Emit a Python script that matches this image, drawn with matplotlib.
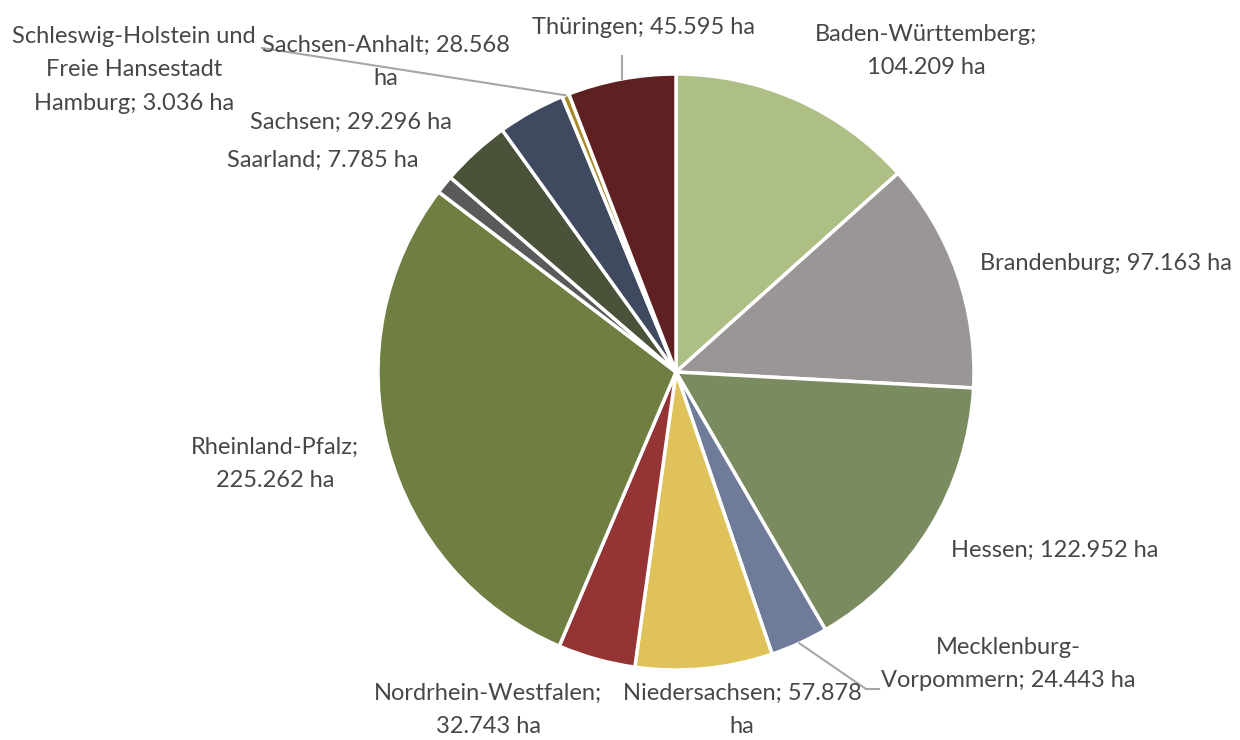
import numpy as np
import matplotlib.pyplot as plt

# --- Daten ---
laender = ['Baden-Württemberg', 'Brandenburg', 'Hessen', 'Mecklenburg-\nVorpommern',
           'Niedersachsen', 'Nordrhein-Westfalen', 'Rheinland-Pfalz', 'Saarland',
           'Sachsen', 'Sachsen-Anhalt', 'Schleswig-Holstein und\nFreie Hansestadt\nHamburg',
           'Thüringen']
flaeche = [104.209, 97.163, 122.952, 24.443, 57.878, 32.743, 225.262, 7.785,
           29.296, 28.568, 3.036, 45.595]
label_txt = ['Baden-Württemberg;\n104.209 ha', 'Brandenburg; 97.163 ha', 'Hessen; 122.952 ha',
             'Mecklenburg-\nVorpommern; 24.443 ha', 'Niedersachsen; 57.878\nha',
             'Nordrhein-Westfalen;\n32.743 ha', 'Rheinland-Pfalz;\n225.262 ha',
             'Saarland; 7.785 ha', 'Sachsen; 29.296 ha', 'Sachsen-Anhalt; 28.568\nha',
             'Schleswig-Holstein und\nFreie Hansestadt\nHamburg; 3.036 ha',
             'Thüringen; 45.595 ha']
farben = ['#adbf84', '#9b9696', '#7a8c5f', '#6e7c99', '#dfc25a', '#943434',
          '#6e7f41', '#5a5a5a', '#4a5339', '#3f4a60', '#a88a2a', '#5e2020']

# label positions in pixel (x, y from top)
label_px = [(926, 51), (1106, 264), (1055, 550), (1008, 664), (742, 710), (488, 710),
            (275, 464), (323, 160), (351, 122), (386, 62), (134, 70), (643, 27)]

W, H = 1240, 740
cx, cy, R = 676, 372, 298

def px(x, y):
    return (x - cx) / R, (cy - y) / R

plt.rcParams['font.family'] = ['Lato', 'DejaVu Sans']

fig = plt.figure(figsize=(12.4, 7.4), dpi=100)
ax = fig.add_axes([0, 0, 1, 1])
ax.axis('off')

ax.pie(flaeche, colors=farben, startangle=90, counterclock=False, radius=1,
       wedgeprops=dict(edgecolor='white', linewidth=2.5))
ax.set_aspect('auto')
ax.set_xlim(-cx / R, (W - cx) / R)
ax.set_ylim(-(H - cy) / R, cy / R)

for t, (x, y) in zip(label_txt, label_px):
    ax.text(*px(x, y), t, ha='center', va='center', fontsize=17, fontweight='normal',
            color='#474747', linespacing=1.72)

# leader lines
lc = '#a6a6a6'
kum = np.cumsum([0] + flaeche)
tot = kum[-1]
def rand(i):
    a = np.deg2rad(90 - (kum[i] + flaeche[i] / 2) / tot * 360)
    return np.cos(a), np.sin(a)

x0, y0 = rand(10)
x1, y1 = px(262, 48)
ax.plot([x0, x1], [y0, y1], color=lc, lw=1.5)
x0, y0 = rand(11)
ax.plot([x0, x0], [y0, px(0, 56)[1]], color=lc, lw=1.5)
x0, y0 = rand(3)
xa, ya = px(866, 689)
xb, _ = px(879, 689)
ax.plot([x0, xa, xb], [y0, ya, ya], color=lc, lw=1.5)

fig.savefig('out.png', dpi=100, facecolor='white')
